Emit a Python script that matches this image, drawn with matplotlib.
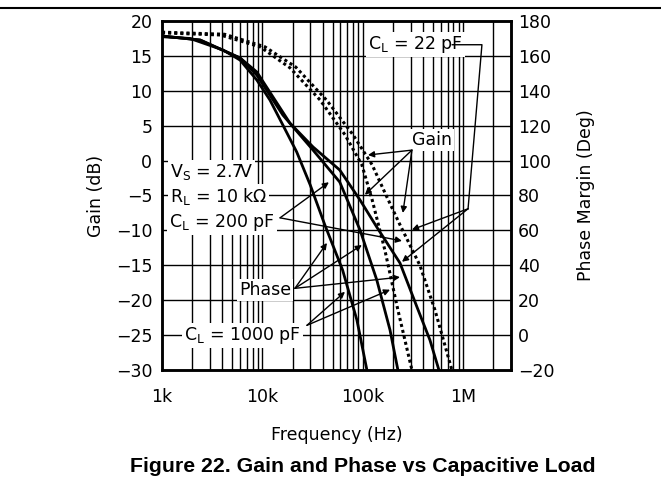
import numpy as np
import matplotlib.pyplot as plt
from matplotlib.lines import Line2D

# Gain curves (dotted), frequency in Hz, gain in dB
gain_f = [
    [1e3, 3.8e3, 9.5e3, 18.8e3, 37.5e3, 66.5e3, 98e3, 124e3, 166e3, 224e3, 309e3],
    [1e3, 4.2e3, 10.6e3, 21.5e3, 44e3, 80e3, 124e3, 170e3, 235e3, 371e3, 524e3, 773e3],
]
gain_db = [
    [18.3, 18.0, 16.3, 13.3, 8.7, 3.7, -0.6, -5.6, -12.8, -21.4, -30],
    [18.4, 18.1, 16.3, 13.4, 8.6, 3.7, -0.6, -4.9, -9.2, -15.0, -21.4, -30],
]

# Phase margin curves (solid), degrees
phase_f = [
    [1e3, 1.9e3, 4.05e3, 6e3, 8.8e3, 11.9e3, 16e3, 22e3, 30e3, 42e3, 63e3, 87.5e3, 110e3],
    [1e3, 2.4e3, 6e3, 8.8e3, 16e3, 32e3, 59e3, 94e3, 138e3, 187e3, 224e3],
    [1e3, 2.4e3, 6e3, 8.8e3, 18.8e3, 32e3, 59e3, 94e3, 138e3, 235e3, 347e3, 467e3, 574e3],
]
phase_deg = [
    [171, 170, 163.4, 157.6, 146.2, 134.7, 120.4, 104.9, 86, 63, 37.3, 8.6, -20],
    [171.4, 169.1, 158.8, 149, 126.1, 106, 87.7, 60.2, 31.6, 2.9, -20],
    [171.4, 169.1, 158.8, 150.8, 121.5, 107.8, 94.6, 77.4, 61.9, 41.3, 16.1, -2.8, -20],
]

x_ticks = [1e3, 1e4, 1e5, 1e6]
x_labels = ['1k', '10k', '100k', '1M']
gain_ticks = np.arange(-30, 21, 5)
phase_ticks = np.arange(-20, 181, 20)

plt.rcParams['font.family'] = 'DejaVu Sans'
FS = 12.5

fig = plt.figure(figsize=(6.61, 4.78), dpi=100)
ax = fig.add_axes([162 / 661, 1 - 370 / 478, 349 / 661, 349 / 478])
ax.set_xscale('log')
ax.set_xlim(1e3, 3e6)
ax.set_ylim(-30, 20)

# grid: every 1..9 of each decade, and every major gain step
for dec in [1e3, 1e4, 1e5, 1e6]:
    for m in range(1, 10):
        v = dec * m
        if 1e3 < v < 3e6:
            ax.axvline(v, color='black', lw=1.0, zorder=1)
for g in gain_ticks[1:-1]:
    ax.axhline(g, color='black', lw=1.0, zorder=1)

for f, g in zip(gain_f, gain_db):
    ax.plot(f, g, color='black', lw=2.2, linestyle=(0, (1, 1)), zorder=3)

ax2 = ax.twinx()
ax2.set_ylim(-20, 180)
for f, p in zip(phase_f, phase_deg):
    ax2.plot(f, p, color='black', lw=2.0, zorder=3)

ax.set_xticks(x_ticks)
ax.set_xticklabels(x_labels)
ax.xaxis.set_minor_locator(plt.NullLocator())
ax.set_yticks(gain_ticks)
ax2.set_yticks(phase_ticks)
ax.set_yticklabels([str(t).replace('-', '\u2212') for t in gain_ticks])
ax2.set_yticklabels([str(t).replace('-', '\u2212') for t in phase_ticks])
for a in (ax, ax2):
    a.tick_params(length=0, labelsize=FS)
    for s in a.spines.values():
        s.set_linewidth(1.8)
ax.tick_params(axis='y', pad=7)
ax2.tick_params(axis='y', pad=5)
ax.tick_params(axis='x', pad=13)

ax.set_xlabel('Frequency (Hz)', fontsize=FS)
ax.xaxis.set_label_coords(0.5, -0.16)
ax.set_ylabel('Gain (dB)', fontsize=FS)
ax.yaxis.set_label_coords(-0.163, 0.5)
ax2.set_ylabel('Phase Margin (Deg)', fontsize=FS, rotation=90)
ax2.yaxis.set_label_coords(1.19, 0.5)

# annotations (gain-axis coordinates)
box = dict(facecolor='white', edgecolor='none', pad=1.5)
arrow = dict(arrowstyle='-|>', color='black', lw=1.0, mutation_scale=9, shrinkA=0, shrinkB=0)

ax.text(1.2e3, -1.6, 'V$_\\mathregular{S}$ = 2.7V', fontsize=FS, va='center', ha='left', bbox=box, zorder=4)
ax.text(1.2e3, -5.1, 'R$_\\mathregular{L}$ = 10 k\u03a9', fontsize=FS, va='center', ha='left', bbox=box, zorder=4)
ax.text(335e3, 16.6, 'C$_\\mathregular{L}$ = 22 pF', fontsize=FS, va='center', ha='center', bbox=box, zorder=4)
ax.text(489e3, 3.0, 'Gain', fontsize=FS, va='center', ha='center', bbox=box, zorder=4)
ax.text(4.0e3, -8.8, 'C$_\\mathregular{L}$ = 200 pF', fontsize=FS, va='center', ha='center', bbox=box, zorder=4)
ax.text(10.6e3, -18.5, 'Phase', fontsize=FS, va='center', ha='center', bbox=box, zorder=4)
ax.text(6.4e3, -25.0, 'C$_\\mathregular{L}$ = 1000 pF', fontsize=FS, va='center', ha='center', bbox=box, zorder=4)

# 22 pF bracket
ax.plot([780e3, 1.54e6, 1.12e6], [16.6, 16.6, -6.9], color='black', lw=1.0, zorder=4)

arrow_sets = [
    ((1.12e6, -6.9), [(309e3, -9.9), (246e3, -14.5)]),
    ((309e3, 1.5), [(112.7e3, 0.8), (105e3, -4.9), (251e3, -7.5)]),
    ((15e3, -8.2), [(46e3, -3.1), (246e3, -11.5)]),
    ((21.1e3, -18.3), [(44e3, -11.8), (98e3, -12.1), (235e3, -16.7)]),
    ((27.8e3, -23.6), [(66.5e3, -18.8), (187e3, -18.5)]),
]
for start, tips in arrow_sets:
    for tip in tips:
        ax.annotate('', xy=tip, xytext=start, arrowprops=arrow, zorder=4)

fig.add_artist(Line2D([0, 1], [1 - 8 / 478, 1 - 8 / 478], color='black', lw=1.5))
fig.text(363 / 661, 1 - 466 / 478, 'Figure 22. Gain and Phase vs Capacitive Load',
         fontsize=15.3, fontweight='bold', family='Liberation Sans', ha='center', va='center')

fig.savefig('out.png', dpi=100)
